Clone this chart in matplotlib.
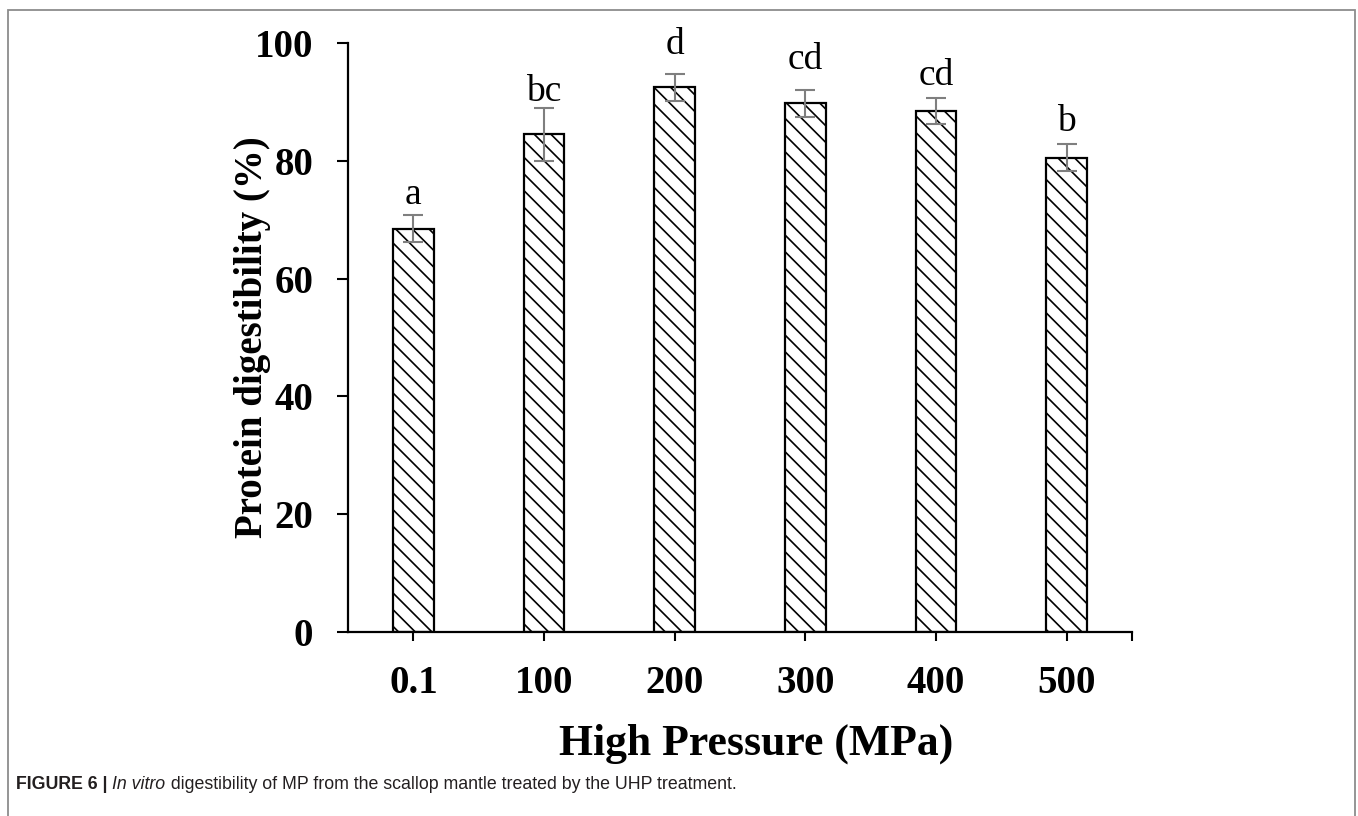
import matplotlib
matplotlib.use('Agg')
import matplotlib.pyplot as plt
from matplotlib.patches import Rectangle

# Data
pressure = ["0.1", "100", "200", "300", "400", "500"]
digestibility = [68.5, 84.5, 92.5, 89.8, 88.5, 80.5]
errors = [2.3, 4.5, 2.3, 2.3, 2.2, 2.3]
letters = ["a", "bc", "d", "cd", "cd", "b"]
y_ticks = [0, 20, 40, 60, 80, 100]

# gap between error bar top and letter (points), as placed in the original
letter_gap = [2, -1, 8.5, 9, 3.5, 3.5]

plt.rcParams['hatch.linewidth'] = 1.2
SERIF = "Liberation Serif"
SANS = "Liberation Sans"

fig = plt.figure(figsize=(13.58, 8.16), dpi=100)
ax = fig.add_axes([0.2563, 0.2255, 0.5773, 0.7218])

x = list(range(len(pressure)))
ax.bar(x, digestibility, width=0.31, color="white", edgecolor="black",
       linewidth=1.6, hatch="\\\\", zorder=2)
ax.errorbar(x, digestibility, yerr=errors, fmt="none", ecolor="#7f7f7f",
            elinewidth=1.5, capsize=7, capthick=1.5, zorder=3)

for xi, val, err, lab, gap in zip(x, digestibility, errors, letters, letter_gap):
    ax.annotate(lab, (xi, val + err), xytext=(0, gap), textcoords="offset points",
                ha="center", va="bottom", fontsize=27, family=SERIF, zorder=4)

ax.set_xlim(-0.5, 5.5)
ax.set_ylim(0, 100)
ax.set_xticks(x + [5.5], pressure + [""])
ax.set_yticks(y_ticks, [str(v) for v in y_ticks])

for s in ["top", "right"]:
    ax.spines[s].set_visible(False)
for s in ["left", "bottom"]:
    ax.spines[s].set_linewidth(1.6)

ax.tick_params(axis="y", direction="out", length=8, width=1.5, pad=17)
ax.tick_params(axis="x", direction="out", length=6.5, width=1.5, pad=17)
for lbl in ax.get_xticklabels() + ax.get_yticklabels():
    lbl.set_fontfamily(SERIF)
    lbl.set_fontweight("bold")
    lbl.set_fontsize(28)

ax.set_ylabel("Protein digestibility (%)", fontsize=28, fontweight="bold",
              family=SERIF, labelpad=-12)
ax.set_xlabel("High Pressure (MPa)", fontsize=31.5, fontweight="bold",
              family=SERIF, labelpad=14)
ax.xaxis.set_label_coords(0.52, -0.155)

# outer frame of the figure panel
frame = Rectangle((8 / 1358, -0.05), (1355 - 8) / 1358, 1 - 10 / 816 + 0.05,
                  transform=fig.transFigure, fill=False, edgecolor="#8c8c8c",
                  linewidth=1.3, clip_on=False)
fig.patches.append(frame)

# caption, drawn piece by piece
renderer = fig.canvas.get_renderer()
parts = [("FIGURE 6 | ", "bold", "normal"),
         ("In vitro", "normal", "italic"),
         (" digestibility of MP from the scallop mantle treated by the UHP treatment.", "normal", "normal")]
xpos = 16
for txt, weight, style in parts:
    t = fig.text(xpos / 1358, 1 - 789 / 816, txt, fontsize=12.8, family=SANS,
                 fontweight=weight, fontstyle=style, color="#231f20",
                 ha="left", va="baseline")
    xpos += t.get_window_extent(renderer).width

fig.savefig("out.png", dpi=100)
